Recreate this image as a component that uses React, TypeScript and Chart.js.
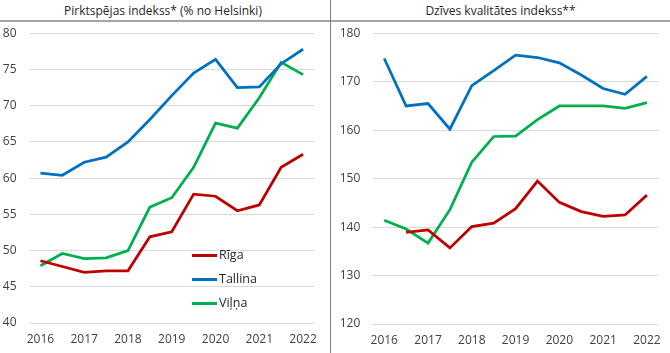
import { useEffect, useRef } from 'react';
import { Chart, registerables } from 'chart.js';

Chart.register(...registerables);

// Half-year periods, 2016 .. 2022
const categories = [
  '2016 I', '2016 II', '2017 I', '2017 II', '2018 I', '2018 II', '2019 I',
  '2019 II', '2020 I', '2020 II', '2021 I', '2021 II', '2022 I',
];
const yearLabels = ['2016', '2017', '2018', '2019', '2020', '2021', '2022'];

const seriesNames = ['Rīga', 'Tallina', 'Viļņa'];
const seriesColors = ['#C00000', '#0070C0', '#00B050'];

const leftTitle = 'Pirktspējas indekss* (% no Helsinki)';
const rightTitle = 'Dzīves kvalitātes indekss**';

// Purchasing power index (% of Helsinki)
const rigaPurchasing = [48.6, 47.8, 47.0, 47.2, 47.2, 51.9, 52.6, 57.8, 57.5, 55.5, 56.3, 61.5, 63.3];
const tallinnPurchasing = [60.7, 60.4, 62.2, 62.9, 65.0, 68.1, 71.4, 74.5, 76.4, 72.5, 72.6, 75.8, 77.8];
const vilniusPurchasing = [47.9, 49.6, 48.9, 49.0, 50.0, 56.0, 57.3, 61.5, 67.6, 66.9, 71.1, 76.0, 74.3];

// Quality of life index
const rigaQuality = [null, 138.9, 139.4, 135.7, 140.1, 140.8, 143.8, 149.5, 145.1, 143.2, 142.2, 142.5, 146.6];
const tallinnQuality = [174.8, 165.0, 165.5, 160.2, 169.2, 172.3, 175.5, 175.0, 173.9, 171.4, 168.6, 167.4, 171.1];
const vilniusQuality = [141.4, 139.6, 136.7, 143.6, 153.4, 158.7, 158.8, 162.2, 165.0, 165.0, 165.0, 164.5, 165.7];

const FONT = "'Open Sans', 'Noto Sans', sans-serif";
const TICK_COLOR = '#404040';
const GRID_COLOR = '#d9d9d9';

function makeConfig(
  data: (number | null)[][],
  yMin: number,
  yMax: number,
  step: number,
  yWidth: number,
  xHeight: number,
  padRight: number,
  padTop: number
): any {
  return {
    type: 'line',
    data: {
      labels: categories,
      datasets: data.map((d, i) => ({
        label: seriesNames[i],
        data: d,
        borderColor: seriesColors[i],
        backgroundColor: seriesColors[i],
        borderWidth: 2.75,
        pointRadius: 0,
        tension: 0,
        spanGaps: false,
      })),
    },
    options: {
      animation: false,
      responsive: false,
      layout: { padding: { top: padTop, right: padRight, bottom: 0, left: 0 } },
      plugins: { legend: { display: false }, tooltip: { enabled: false }, title: { display: false } },
      scales: {
        x: {
          type: 'category',
          offset: true,
          grid: { display: false, drawTicks: false },
          border: { display: false },
          ticks: {
            autoSkip: false,
            maxRotation: 0,
            padding: 9,
            color: TICK_COLOR,
            font: { family: FONT, size: 12 },
            callback: (_v: any, idx: number) => (idx % 2 === 0 ? yearLabels[idx / 2] : ''),
          },
          afterFit: (s: any) => {
            s.height = xHeight;
          },
        },
        y: {
          min: yMin,
          max: yMax,
          grid: {
            color: GRID_COLOR,
            lineWidth: 1,
            drawTicks: true,
            tickLength: 13,
            tickColor: 'rgba(0,0,0,0)',
          },
          border: { display: false },
          ticks: {
            stepSize: step,
            padding: 0,
            color: TICK_COLOR,
            font: { family: FONT, size: 12 },
          },
          afterFit: (s: any) => {
            s.width = yWidth;
          },
        },
      },
    },
  };
}

export default function App() {
  const leftRef = useRef<HTMLCanvasElement | null>(null);
  const rightRef = useRef<HTMLCanvasElement | null>(null);

  useEffect(() => {
    const left = new Chart(
      leftRef.current as HTMLCanvasElement,
      makeConfig([rigaPurchasing, tallinnPurchasing, vilniusPurchasing], 40, 80, 5, 29.5, 30, 16, 11.3)
    );
    const right = new Chart(
      rightRef.current as HTMLCanvasElement,
      makeConfig([rigaQuality, tallinnQuality, vilniusQuality], 120, 180, 10, 42.3, 29, 9, 11.3)
    );
    return () => {
      left.destroy();
      right.destroy();
    };
  }, []);

  const legendRows = [255, 279, 303];

  return (
    <div
      style={{
        position: 'absolute',
        left: 0,
        top: 0,
        width: 670,
        height: 353,
        background: '#ffffff',
        fontFamily: FONT,
        overflow: 'hidden',
      }}
    >
      <div
        style={{
          position: 'absolute',
          left: 0,
          top: 0,
          width: 326,
          height: 20,
          lineHeight: '21px',
          textAlign: 'center',
          fontSize: 12,
          color: '#262626',
        }}
      >
        {leftTitle}
      </div>
      <div
        style={{
          position: 'absolute',
          left: 331,
          top: 0,
          width: 339,
          height: 20,
          lineHeight: '21px',
          textAlign: 'center',
          fontSize: 12,
          color: '#262626',
        }}
      >
        {rightTitle}
      </div>
      <div style={{ position: 'absolute', left: 0, top: 20, width: 670, height: 2, background: '#a6a6a6' }} />
      <div style={{ position: 'absolute', left: 330, top: 0, width: 1, height: 353, background: '#808080' }} />

      <canvas
        ref={leftRef}
        width={330}
        height={331}
        style={{ position: 'absolute', left: 0, top: 22, width: 330, height: 331 }}
      />
      <canvas
        ref={rightRef}
        width={339}
        height={331}
        style={{ position: 'absolute', left: 331, top: 22, width: 339, height: 331 }}
      />

      {seriesNames.map((name, i) => (
        <div key={name}>
          <div
            style={{
              position: 'absolute',
              left: 192,
              top: legendRows[i] - 1.5,
              width: 25,
              height: 3,
              background: seriesColors[i],
            }}
          />
          <div
            style={{
              position: 'absolute',
              left: 219,
              top: legendRows[i] - 10,
              height: 20,
              lineHeight: '20px',
              fontSize: 12.5,
              color: '#262626',
              whiteSpace: 'nowrap',
            }}
          >
            {name}
          </div>
        </div>
      ))}
    </div>
  );
}
